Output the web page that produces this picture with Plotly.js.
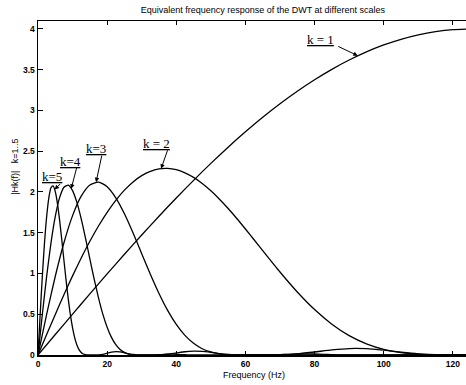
<!DOCTYPE html>
<html>
<head>
<meta charset="utf-8">
<script src="https://cdn.plot.ly/plotly-3.0.1.min.js"></script>
<style>html,body{margin:0;padding:0;background:#fff;}#chart{width:466px;height:385px;}</style>
</head>
<body>
<div id="chart"></div>
<script>
// Frequency grids (Hz) and |Hk(f)| values
var freqK1 = [0,5,10,15,20,25,30,35,40,45,50,55,60,65,70,75,80,85,90,95,100,105,110,115,120,125];
var magK1 = [0,0.251,0.501,0.750,0.995,1.236,1.472,1.703,1.927,2.143,2.351,2.550,2.738,2.916,3.082,3.236,3.377,3.505,3.619,3.719,3.804,3.874,3.929,3.968,3.992,4.000];

var freqK2 = [0,2.5,5,7.5,10,12.5,15,17.5,20,22.5,25,27.5,30,32.5,35,37.5,40,42.5,45,47.5,50,52.5,55,57.5,60,62.5,65,70,75,80,85,90,95,100,105,110,115,120,125];
var magK2 = [0,0.251,0.498,0.740,0.971,1.191,1.396,1.583,1.751,1.898,2.023,2.124,2.201,2.254,2.283,2.289,2.273,2.235,2.179,2.104,2.014,1.911,1.797,1.675,1.546,1.414,1.281,1.018,0.773,0.557,0.378,0.238,0.137,0.069,0.030,0.010,0.002,0.000,0];

var freqK3 = [0,2.5,5,7.5,10,12.5,15,17.5,20,22.5,25,27.5,30,32.5,35,37.5,40,42.5,45,47.5,50,52.5,55,57.5,60,62.5,65,70,75,80,85,90,95,100,105,110,115,120,125];
var magK3 = [0,0.498,0.966,1.377,1.710,1.949,2.086,2.122,2.065,1.929,1.733,1.497,1.243,0.990,0.754,0.547,0.375,0.241,0.143,0.077,0.037,0.015,0.004,0.001,0.000,0,0.000,0.003,0.014,0.037,0.062,0.079,0.077,0.059,0.035,0.015,0.003,0.000,0];

var freqK4 = [0,1.25,2.5,3.75,5,6.25,7.5,8.75,10,11.25,12.5,13.75,15,16.25,17.5,18.75,20,21.25,22.5,23.75,25,26.25,27.5,28.75,30,31.25,32.5,35,37.5,40,42.5,45,47.5,50,52.5,55,57.5,60,62.5,65,67.5,70,72.5,75,77.5,80,82.5,85,87.5,90,95,100,110,125];
var magK4 = [0,0.497,0.964,1.373,1.700,1.931,2.058,2.084,2.017,1.872,1.670,1.431,1.178,0.930,0.701,0.502,0.341,0.216,0.127,0.068,0.032,0.012,0.004,0.001,0.000,0,0.000,0.002,0.010,0.025,0.040,0.047,0.044,0.032,0.017,0.007,0.002,0.000,0,0.000,0.001,0.004,0.008,0.012,0.014,0.012,0.008,0.004,0.001,0.000,0,0,0,0];

var freqK5 = [0,0.625,1.25,1.875,2.5,3.125,3.75,4.375,5,5.625,6.25,6.875,7.5,8.125,8.75,9.375,10,10.625,11.25,11.875,12.5,13.125,13.75,14.375,15,15.625,17.5,18.75,20,21.25,22.5,23.75,25,26.25,27.5,28.75,30,31.25,33.75,35,36.25,37.5,38.75,40,41.25,42.5,43.75,45,50,60,80,125];
var magK5 = [0,0.497,0.964,1.371,1.697,1.926,2.052,2.075,2.005,1.858,1.654,1.415,1.163,0.915,0.688,0.492,0.333,0.210,0.123,0.065,0.030,0.012,0.004,0.001,0.000,0,0.002,0.009,0.022,0.036,0.042,0.038,0.027,0.015,0.006,0.001,0,0,0.001,0.003,0.006,0.009,0.010,0.008,0.005,0.003,0.001,0,0,0,0,0];

var xTicks = [0,20,40,60,80,100,120];
var yTicks = [0,0.5,1,1.5,2,2.5,3,3.5,4];

// Label texts, label anchor points, and the curve points the arrows touch
var labelTexts = ['k = 1','k = 2','k=3','k=4','k=5'];
var labelFreq = [81.6,34.4,16.8,9.3,4.0];
var labelMag = [3.87,2.59,2.53,2.38,2.19];
var arrowFreq = [92.5,35.6,16.8,9.6,4.8];
var arrowMag = [3.672,2.285,2.12,2.04,2.03];
var arrowDx = [-21,7,6,6,7];
var arrowDy = [-10,-20,-28,-23,-7];

var series = [[freqK1,magK1],[freqK2,magK2],[freqK3,magK3],[freqK4,magK4],[freqK5,magK5]];
var traces = series.map(function(s){
  return {x:s[0], y:s[1], type:'scatter', mode:'lines',
    line:{color:'#000', width:1.3, shape:'spline', smoothing:0.6},
    hoverinfo:'skip', showlegend:false, cliponaxis:true};
});

var annotations = [];
for (var i=0;i<labelTexts.length;i++){
  annotations.push({x:labelFreq[i], y:labelMag[i], xref:'x', yref:'y',
    text:'<u>'+labelTexts[i]+'</u>', showarrow:false,
    font:{family:'Liberation Serif, Times New Roman, serif', size:13, color:'#000'}});
  annotations.push({x:arrowFreq[i], y:arrowMag[i], xref:'x', yref:'y', text:'',
    showarrow:true, ax:arrowDx[i], ay:arrowDy[i], arrowhead:2, arrowsize:0.9,
    arrowwidth:1, arrowcolor:'#000', standoff:0, startstandoff:0});
}
annotations.push({xref:'paper', yref:'paper', x:-0.054, y:0.563, textangle:-90,
  text:'|Hk(f)|\u00a0\u00a0\u00a0k=1..5', showarrow:false, xanchor:'center', yanchor:'middle',
  font:{family:'Liberation Sans, Arial, sans-serif', size:9, color:'#000'}});
annotations.push({xref:'paper', yref:'paper', x:0.505, y:-0.06, text:'Frequency (Hz)',
  showarrow:false, xanchor:'center', yanchor:'middle',
  font:{family:'Liberation Sans, Arial, sans-serif', size:9, color:'#000'}});

var layout = {
  width:466, height:385,
  margin:{l:38, r:0, t:21, b:30},
  paper_bgcolor:'#fff', plot_bgcolor:'#fff',
  title:{text:'Equivalent frequency response of the DWT at different scales',
    x:0.564, xref:'container', xanchor:'center', y:0.975, yref:'container', yanchor:'middle',
    font:{family:'Liberation Sans, Arial, sans-serif', size:9, color:'#000'}},
  xaxis:{range:[0,123.8], tickvals:xTicks, ticktext:xTicks.map(String),
    ticks:'inside', ticklen:4, tickwidth:1, tickcolor:'#000',
    showline:true, linecolor:'#000', linewidth:1.5, mirror:'ticks',
    showgrid:false, zeroline:false,
    tickfont:{family:'Liberation Sans, Arial, sans-serif', size:8.5, color:'#000', weight:'bold'}},
  yaxis:{range:[0,4.098], tickvals:yTicks, ticktext:yTicks.map(String),
    ticks:'inside', ticklen:5, tickwidth:1, tickcolor:'#000',
    showline:true, linecolor:'#000', linewidth:1.5, mirror:false,
    showgrid:false, zeroline:false,
    tickfont:{family:'Liberation Sans, Arial, sans-serif', size:8.5, color:'#000', weight:'bold'}},
  annotations:annotations
};

Plotly.newPlot('chart', traces, layout, {staticPlot:true, displayModeBar:false});
</script>
</body>
</html>
